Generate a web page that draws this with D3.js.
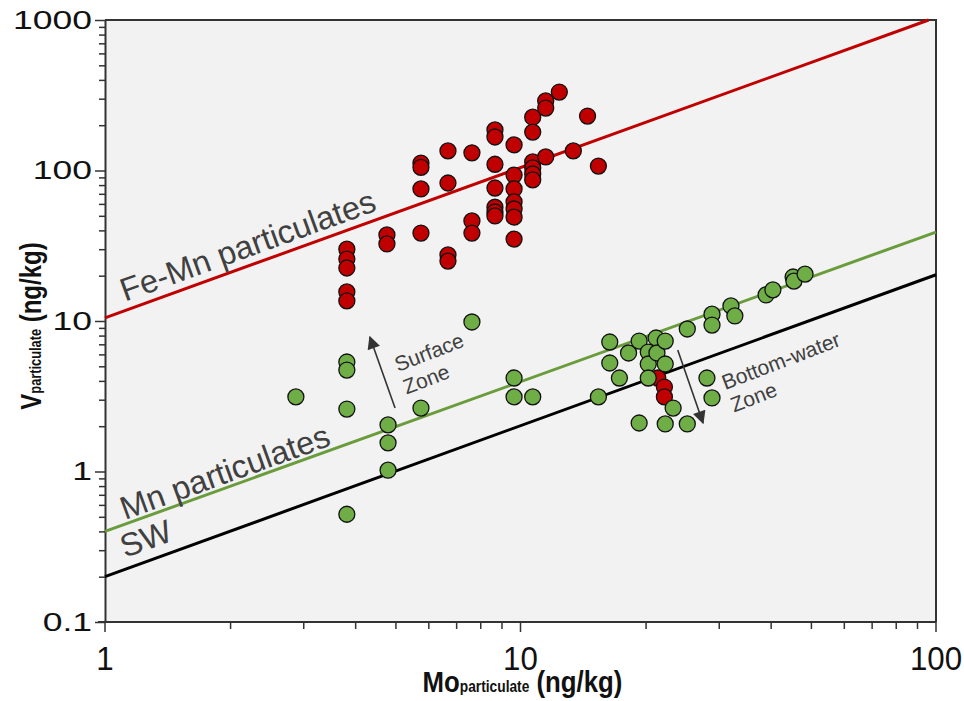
<!DOCTYPE html>
<html>
<head>
<meta charset="utf-8">
<script src="https://cdn.jsdelivr.net/npm/d3@7"></script>
<style>
  body { margin: 0; background: #fff; }
  svg { display: block; }
</style>
</head>
<body>
<div id="chart"></div>
<script>
// Fe-Mn particulates (red) : [Mo, V] in ng/kg
var feMnPoints = [
    [3.82, 30], [3.82, 25.8], [3.82, 22.5], [3.82, 15.6], [3.82, 13.6],
    [4.77, 37.3], [4.77, 32.5],
    [5.76, 112], [5.76, 105], [5.76, 75.4], [5.76, 38.4],
    [6.69, 135], [6.69, 82.6], [6.69, 27.5], [6.69, 25],
    [7.64, 131], [7.64, 46.2], [7.64, 38.4],
    [8.68, 186], [8.68, 167], [8.68, 110], [8.68, 76.5], [8.68, 57], [8.68, 53], [8.68, 49.9],
    [9.65, 148], [9.65, 93.3], [9.65, 75.4], [9.65, 61.8], [9.65, 55.5], [9.65, 49], [9.65, 35],
    [10.7, 226], [10.7, 180], [10.7, 114], [10.7, 104], [10.7, 94.8], [10.7, 86.6],
    [11.5, 290], [11.5, 260], [11.5, 123],
    [12.4, 332], [13.4, 135], [14.5, 230], [15.4, 107],
    [21.4, 4.18], [22.2, 3.64], [22.2, 3.13]
];

// Mn particulates (green)
var mnPoints = [
    [2.88, 3.13],
    [3.82, 5.34], [3.82, 4.72], [3.82, 2.60], [3.82, 0.52],
    [4.80, 2.04], [4.80, 1.55], [4.80, 1.02],
    [5.76, 2.64], [7.64, 9.85],
    [9.65, 4.18], [9.65, 3.13], [10.7, 3.13],
    [15.4, 3.13], [16.4, 7.25], [16.4, 5.26], [17.3, 4.18],
    [18.2, 6.13], [19.3, 7.36], [19.3, 2.10],
    [20.3, 6.22], [20.3, 5.18], [20.3, 4.18],
    [21.2, 7.71], [21.3, 6.13], [22.3, 7.36], [22.3, 5.18], [22.3, 2.07],
    [23.3, 2.64], [25.2, 8.85], [25.2, 2.07],
    [28.1, 4.18], [28.9, 3.08], [28.9, 11.1], [28.9, 9.40],
    [32.1, 12.6], [32.8, 10.8], [39.0, 14.9], [40.5, 16.1],
    [45.3, 19.6], [45.5, 18.4], [48.4, 20.5]
];

// reference lines (end points)
var feMnLine = [[1, 10.5], [96, 1000]];
var mnLine = [[1, 0.4], [100, 39]];
var swLine = [[1, 0.2], [100, 20.3]];

var xTicks = [1, 10, 100];
var yTicks = [0.1, 1, 10, 100, 1000];

var width = 964, height = 701;
var margin = { top: 20, right: 28, bottom: 79, left: 105 };

var svg = d3.select("#chart").append("svg")
    .attr("width", width)
    .attr("height", height);

var x = d3.scaleLog().domain([1, 100]).range([margin.left, width - margin.right]);
var y = d3.scaleLog().domain([0.1, 1000]).range([height - margin.bottom, margin.top]);

// plot background
svg.append("rect")
    .attr("x", x(1)).attr("y", y(1000))
    .attr("width", x(100) - x(1)).attr("height", y(0.1) - y(1000))
    .attr("fill", "#f2f2f2");

// minor ticks
var xMinor = [], yMinor = [];
[1, 10].forEach(function(d) { for (var i = 2; i < 10; i++) xMinor.push(d * i); });
[0.1, 1, 10, 100].forEach(function(d) { for (var i = 2; i < 10; i++) yMinor.push(d * i); });

svg.append("g")
    .attr("transform", "translate(0," + y(0.1) + ")")
    .call(d3.axisBottom(x).tickValues(xMinor).tickSize(7).tickFormat(""))
    .call(function(g) { g.select(".domain").remove(); })
    .selectAll("line").attr("stroke", "#333").attr("stroke-width", 1.5);

svg.append("g")
    .attr("transform", "translate(" + x(1) + ",0)")
    .call(d3.axisLeft(y).tickValues(yMinor).tickSize(6).tickFormat(""))
    .call(function(g) { g.select(".domain").remove(); })
    .selectAll("line").attr("stroke", "#333").attr("stroke-width", 1.5);

// major axes
var xAxis = svg.append("g")
    .attr("transform", "translate(0," + y(0.1) + ")")
    .call(d3.axisBottom(x).tickValues(xTicks).tickSize(10).tickSizeOuter(0).tickPadding(14)
        .tickFormat(d3.format("d")));
xAxis.select(".domain").attr("stroke", "#333").attr("stroke-width", 2)
    .attr("d", "M" + (x(1) - 7) + ",0H" + x(100));
xAxis.selectAll("line").attr("stroke", "#333").attr("stroke-width", 1.5);
xAxis.selectAll("text")
    .style("font-family", "'Liberation Sans', Arial, sans-serif")
    .style("font-size", "34px")
    .attr("fill", "#111")
    .attr("transform", "scale(0.92,1)")
    .attr("x", function(d) { return 0; });
xAxis.selectAll(".tick")
    .attr("transform", function(d) { return "translate(" + x(d) + ",0)"; });

var yAxis = svg.append("g")
    .attr("transform", "translate(" + x(1) + ",0)")
    .call(d3.axisLeft(y).tickValues(yTicks).tickSize(10).tickSizeOuter(0).tickPadding(9)
        .tickFormat(function(d) { return d < 1 ? "0.1" : d3.format("d")(d); }));
yAxis.select(".domain").attr("stroke", "#333").attr("stroke-width", 2);
yAxis.selectAll("line").attr("stroke", "#333").attr("stroke-width", 1.5);
yAxis.selectAll("text")
    .style("font-family", "'Liberation Sans', Arial, sans-serif")
    .style("font-size", "25px")
    .attr("fill", "#111")
    .attr("transform", "scale(1.42,1)")
    .attr("x", -13 / 1.42);

// top and right frame
svg.append("path")
    .attr("d", "M" + x(1) + "," + y(1000) + "H" + x(100) + "V" + y(0.1))
    .attr("fill", "none").attr("stroke", "#333").attr("stroke-width", 2);

// reference lines
var line = d3.line()
    .x(function(d) { return x(d[0]); })
    .y(function(d) { return y(d[1]); });

svg.append("path").datum(swLine).attr("d", line)
    .attr("fill", "none").attr("stroke", "#000").attr("stroke-width", 3);
svg.append("path").datum(mnLine).attr("d", line)
    .attr("fill", "none").attr("stroke", "#6a9c3c").attr("stroke-width", 3);
svg.append("path").datum(feMnLine).attr("d", line)
    .attr("fill", "none").attr("stroke", "#c00000").attr("stroke-width", 3);

// points
svg.append("g").selectAll("circle")
    .data(feMnPoints).enter().append("circle")
    .attr("cx", function(d) { return x(d[0]); })
    .attr("cy", function(d) { return y(d[1]); })
    .attr("r", 8)
    .attr("fill", "#c00000").attr("stroke", "#111").attr("stroke-width", 1.3);

svg.append("g").selectAll("circle")
    .data(mnPoints).enter().append("circle")
    .attr("cx", function(d) { return x(d[0]); })
    .attr("cy", function(d) { return y(d[1]); })
    .attr("r", 8)
    .attr("fill", "#6fad47").attr("stroke", "#111").attr("stroke-width", 1.3);

// labels along the lines
var angle = Math.atan2(y(10) - y(1), x(10) - x(1)) * 180 / Math.PI;
var labelFont = "'Liberation Sans', Arial, sans-serif";

function addLabel(mo, v, lines, size, rot) {
    var t = svg.append("text")
        .attr("transform", "translate(" + x(mo) + "," + y(v) + ") rotate(" + rot + ")")
        .style("font-family", labelFont)
        .style("font-size", size + "px")
        .attr("fill", "#404040");
    lines.forEach(function(s, i) {
        t.append("tspan").attr("x", 0).attr("dy", i === 0 ? 0 : "1.15em").text(s);
    });
}

addLabel(1.117, 13.4, ["Fe-Mn particulates"], 32.5, angle);
addLabel(1.117, 0.476, ["Mn particulates"], 32.5, angle);
addLabel(1.117, 0.266, ["SW"], 32.5, angle);
addLabel(5.07, 4.58, ["Surface", "Zone"], 21, -21);
addLabel(31.1, 3.48, ["Bottom-water", "Zone"], 21, -21);

// arrows
svg.append("defs").append("marker")
    .attr("id", "head")
    .attr("viewBox", "0 0 10 10")
    .attr("refX", 9).attr("refY", 5)
    .attr("markerWidth", 15).attr("markerHeight", 13)
    .attr("markerUnits", "userSpaceOnUse")
    .attr("orient", "auto")
    .append("path").attr("d", "M0,0L10,5L0,10Z").attr("fill", "#333");

var arrows = [
    [[4.99, 2.64], [4.34, 7.83]],
    [[23.9, 6.42], [27.5, 2.10]]
];
arrows.forEach(function(a) {
    svg.append("line")
        .attr("x1", x(a[0][0])).attr("y1", y(a[0][1]))
        .attr("x2", x(a[1][0])).attr("y2", y(a[1][1]))
        .attr("stroke", "#333").attr("stroke-width", 1.6)
        .attr("marker-end", "url(#head)");
});

// axis titles
var titleFont = "'Liberation Sans', Arial, sans-serif";
var xt = svg.append("text")
    .attr("transform", "translate(" + ((x(1) + x(100)) / 2 + 2) + ",692) scale(0.86,1)")
    .attr("text-anchor", "middle")
    .style("font-family", titleFont).style("font-weight", "bold").style("font-size", "30px")
    .attr("fill", "#111");
xt.append("tspan").text("Mo");
xt.append("tspan").style("font-size", "16px").text("particulate");
xt.append("tspan").text(" (ng/kg)");

var yt = svg.append("text")
    .attr("transform", "translate(41," + ((y(0.1) + y(1000)) / 2 + 5) + ") rotate(-90) scale(0.8,1)")
    .attr("text-anchor", "middle")
    .style("font-family", titleFont).style("font-weight", "bold").style("font-size", "30px")
    .attr("fill", "#111");
yt.append("tspan").text("V");
yt.append("tspan").style("font-size", "16px").text("particulate");
yt.append("tspan").text(" (ng/kg)");
</script>
</body>
</html>
